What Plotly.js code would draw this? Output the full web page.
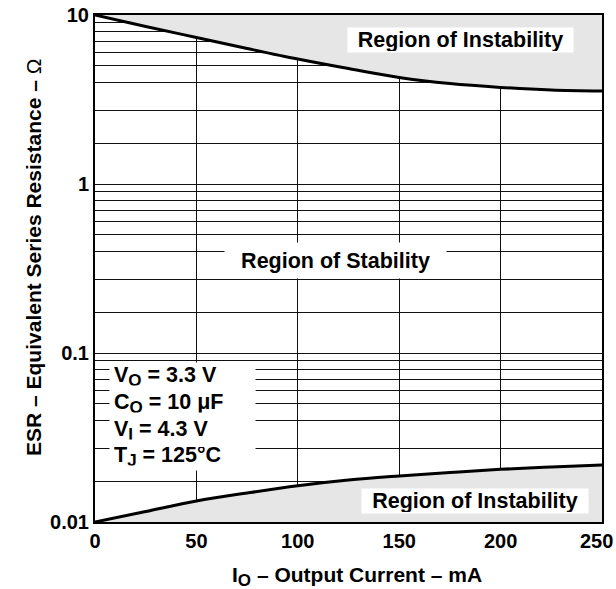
<!DOCTYPE html>
<html>
<head>
<meta charset="utf-8">
<script src="https://cdn.plot.ly/plotly-3.0.1.min.js"></script>
<style>html,body{margin:0;padding:0;background:#fff;}#chart{width:616px;height:589px;}</style>
</head>
<body>
<div id="chart"></div>
<script>
// ---- data ----
const outputCurrent = [0, 25, 50, 75, 100, 125, 150, 175, 200, 225, 250];                 // mA
const esrUpperLimit = [10, 8.55, 7.36, 6.34, 5.49, 4.82, 4.27, 3.93, 3.73, 3.60, 3.55];     // ohm
const esrLowerLimit = [0.01, 0.01154, 0.01331, 0.01485, 0.0164, 0.01772, 0.01872, 0.01963, 0.0205, 0.02116, 0.02174]; // ohm
const xTickVals = [0, 50, 100, 150, 200, 250];
const xTickText = ['0', '50', '100', '150', '200', '250'];
const yDecades = [0.01, 0.1, 1, 10];
const yDecadeLabels = ['0.01', '0.1', '1', '10'];
const yGridSteps = [1.74, 2.72, 4, 5, 6, 7, 8, 9];   // grid lines inside each decade, as drawn
const SUB = s => '<sub><span style="font-size:17px">' + s + '</span></sub>';
const conditions = ['V' + SUB('O') + ' = 3.3 V', 'C' + SUB('O') + ' = 10 \u03bcF', 'V' + SUB('I') + ' = 4.3 V', 'T' + SUB('J') + ' = 125\u00b0C'];

const X_MIN = 0, X_MAX = 250, Y_MIN = 0.01, Y_MAX = 10;

// tick/grid arrays for the log axis
const yTickVals = [], yTickText = [];
yDecades.forEach((d, i) => {
  yTickVals.push(d); yTickText.push(yDecadeLabels[i]);
  if (d < Y_MAX) yGridSteps.forEach(s => { yTickVals.push(d * s); yTickText.push(''); });
});
// the last x label sits against the page edge: drawn as an annotation so it is not clipped
const lastXLabel = xTickText[xTickText.length - 1];
const xTickTextAxis = xTickText.slice(0, -1).concat(['']);

const fillCol = '#e6e6e6';
const traces = [
  { // instability above upper limit
    x: outputCurrent.concat([X_MAX, X_MIN]), y: esrUpperLimit.concat([Y_MAX, Y_MAX]),
    mode: 'lines', fill: 'toself', fillcolor: fillCol, line: {width: 0}, hoverinfo: 'skip', showlegend: false
  },
  { // instability below lower limit
    x: outputCurrent.concat([X_MAX, X_MIN]), y: esrLowerLimit.concat([Y_MIN, Y_MIN]),
    mode: 'lines', fill: 'toself', fillcolor: fillCol, line: {width: 0}, hoverinfo: 'skip', showlegend: false
  },
  { x: outputCurrent, y: esrUpperLimit, mode: 'lines', line: {color: '#000', width: 3, shape: 'spline'}, showlegend: false },
  { x: outputCurrent, y: esrLowerLimit, mode: 'lines', line: {color: '#000', width: 3, shape: 'spline'}, showlegend: false }
];

const F = 'Liberation Sans, Arial, Helvetica, sans-serif';
const fontLbl = {family: F, size: 21.5, color: '#000', weight: 'bold'};
const fontTick = {family: F, size: 20, color: '#000', weight: 'bold'};
const fontTitle = {family: F, size: 21, color: '#000', weight: 'bold'};
const L = Math.log10;

const annotations = [
  {x: 180, y: L(7.07), text: 'Region of Instability', showarrow: false, bgcolor: '#fff', width: 223, height: 22, font: fontLbl},
  {x: 118.6, y: -0.453, text: 'Region of Stability', showarrow: false, bgcolor: '#fff', width: 219, height: 33, font: fontLbl},
  {x: 187.6, y: L(0.01326), text: 'Region of Instability', showarrow: false, bgcolor: '#fff', width: 224, height: 22, font: fontLbl},
  {x: X_MAX, xref: 'x', yref: 'paper', y: (522 - 541) / 507, yanchor: 'middle', xanchor: 'right', xshift: 12,
   text: lastXLabel, showarrow: false, font: fontTick, borderpad: 0},
  {xref: 'paper', yref: 'paper', x: (356.5 - 95) / 507, y: (522 - 576) / 507, yanchor: 'middle',
   text: 'I' + SUB('O') + ' \u2013 Output Current \u2013 mA', showarrow: false, font: fontTitle},
  {xref: 'paper', yref: 'paper', x: (20 - 95) / 507, y: (522 - 257.5) / 507, textangle: -90,
   text: 'ESR \u2013 Equivalent Series Resistance \u2013 <span style="font-weight:normal">\u03a9</span>', showarrow: false, font: fontTitle}
];
const condY = [-1.140, -1.298, -1.456, -1.613];
conditions.forEach((t, i) => annotations.push({
  x: 43.1, y: condY[i], text: t, showarrow: false, bgcolor: '#fff', width: 137, height: 18.6,
  align: 'left', borderpad: 4, font: fontLbl
}));

const layout = {
  width: 616, height: 589,
  margin: {l: 95, r: 14, t: 15, b: 67},
  paper_bgcolor: '#fff', plot_bgcolor: '#fff',
  showlegend: false,
  xaxis: {
    range: [X_MIN, X_MAX], tickmode: 'array', tickvals: xTickVals, ticktext: xTickTextAxis,
    showgrid: true, gridcolor: '#111', gridwidth: 1, zeroline: false,
    showline: true, mirror: true, linecolor: '#000', linewidth: 2,
    ticks: '', tickfont: fontTick
  },
  yaxis: {
    type: 'log', range: [L(Y_MIN), L(Y_MAX)], tickmode: 'array', tickvals: yTickVals, ticktext: yTickText,
    showgrid: true, gridcolor: '#111', gridwidth: 1, zeroline: false,
    showline: true, mirror: true, linecolor: '#000', linewidth: 2,
    ticks: '', tickfont: fontTick, ticklabeloverflow: 'allow'
  },
  annotations: annotations
};

Plotly.newPlot('chart', traces, layout, {staticPlot: true, displayModeBar: false});
</script>
</body>
</html>
